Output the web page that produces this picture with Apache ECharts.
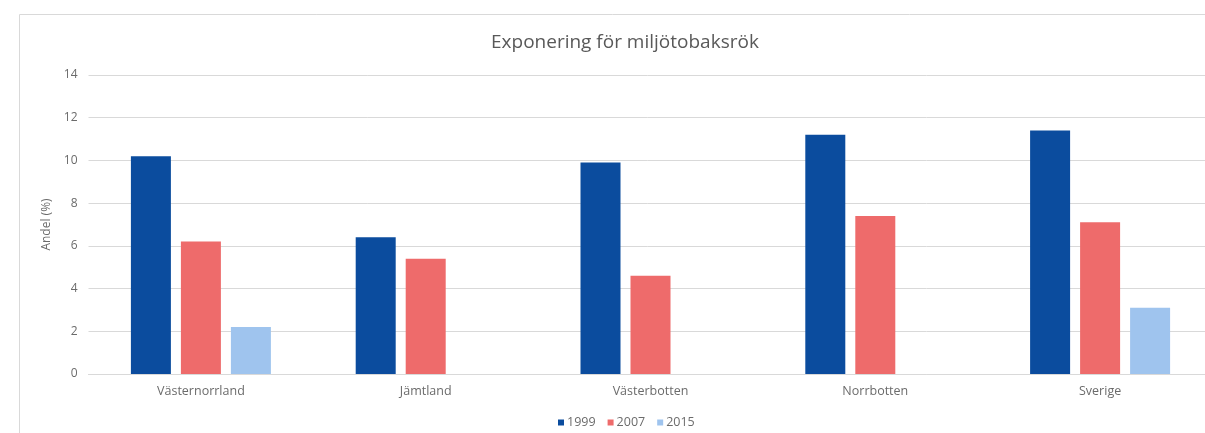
<!DOCTYPE html>
<html><head><meta charset="utf-8">
<script src="https://cdn.jsdelivr.net/npm/echarts@6/dist/echarts.min.js"></script>
<style>html,body{margin:0;padding:0;background:#fff}#c{width:1205px;height:433px}</style>
</head><body><div id="c"></div>
<script>
const categories = ['Västernorrland', 'Jämtland', 'Västerbotten', 'Norrbotten', 'Sverige'];
const years = ['1999', '2007', '2015'];
const v1999 = [10.2, 6.4, 9.9, 11.2, 11.4];
const v2007 = [6.2, 5.4, 4.6, 7.4, 7.1];
const v2015 = [2.2, null, null, null, 3.1];
const yTicks = [0, 2, 4, 6, 8, 10, 12, 14];

const colors = ['#0B4C9E', '#EE6B6B', '#9FC4EE'];
const font = '"Open Sans", "Noto Sans", sans-serif';
const txt = '#6b6b6b';
const chart = echarts.init(document.getElementById('c'), null, {renderer: 'canvas'});
const mk = (name, data, i) => ({
  name, type: 'bar', data, barWidth: 40, barGap: '25%',
  itemStyle: {color: colors[i]}
});
chart.setOption({
  animation: false,
  textStyle: {fontFamily: font},
  graphic: [{type: 'rect', shape: {x: 19.5, y: 14.5, width: 1200, height: 430},
    style: {fill: 'none', stroke: '#d9d9d9', lineWidth: 1}, silent: true}],
  title: {text: 'Exponering för miljötobaksrök', left: 486, top: 28,
    textStyle: {fontFamily: font, fontSize: 19, fontWeight: 'normal', color: '#595959'}},
  legend: {data: years, bottom: -1, left: 553, icon: 'rect', itemWidth: 6, itemHeight: 6, itemGap: 12,
    textStyle: {fontFamily: font, fontSize: 12.5, color: txt, padding: [0, 0, 0, -2]}},
  grid: {left: 88.5, width: 1124, top: 75, bottom: 59, outerBoundsMode: 'none', containLabel: false},
  xAxis: {type: 'category', data: categories,
    axisLine: {lineStyle: {color: '#d9d9d9'}}, axisTick: {show: false},
    axisLabel: {fontFamily: font, fontSize: 12.5, color: txt, margin: 11}},
  yAxis: {type: 'value', min: yTicks[0], max: yTicks[yTicks.length - 1], interval: 2,
    name: 'Andel (%)', nameLocation: 'middle', nameGap: 34,
    nameTextStyle: {fontFamily: font, fontSize: 12, color: txt},
    axisLabel: {fontFamily: font, fontSize: 12, color: txt, margin: 11},
    splitLine: {lineStyle: {color: '#d9d9d9'}}},
  series: [mk(years[0], v1999, 0), mk(years[1], v2007, 1), mk(years[2], v2015, 2)]
});
</script></body></html>
